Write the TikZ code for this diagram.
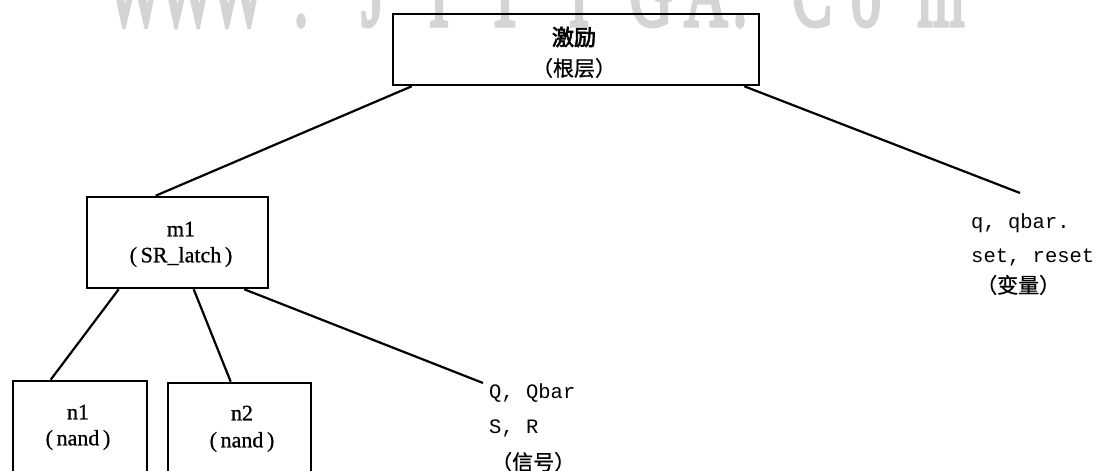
\documentclass[tikz,border=0pt]{standalone}
\usepackage{fontspec}
\setmainfont{Liberation Serif}
\setmonofont{Liberation Mono}
\newfontfamily\serifw[FakeBold=0.8]{Liberation Serif}
\newfontfamily\cjk[FakeBold=0.8]{Noto Sans CJK SC}
\newfontfamily\cjkb[FakeBold=3]{Noto Sans CJK SC}
\newfontfamily\wmfont[FakeBold=4]{Liberation Serif}
\tikzset{
  box/.style={draw, line width=2.6pt, inner sep=0pt},
  conn/.style={line width=2.2pt},
  lbl/.style={font=\serifw\fontsize{22}{26}\selectfont, inner sep=0pt},
  monol/.style={font=\ttfamily\fontsize{20.5}{24}\selectfont, anchor=west, inner sep=0pt},
  cjkl/.style={font=\cjk\fontsize{21}{24}\selectfont, inner sep=0pt},
  wm/.style={text=black!17, font=\wmfont\fontsize{100}{100}\selectfont, anchor=base, inner sep=0pt}
}
\begin{document}
\begin{tikzpicture}[x=1pt,y=-1pt]
\path[use as bounding box] (0,0) rectangle (1103,471);
\clip (0,0) rectangle (1103,471);
\fill[white] (0,0) rectangle (1103,471);
% watermark
\foreach \ch/\xx [count=\i] in {W/135,W/187,W/238,./301,J/373,I/439,T/505,I/579,G/651,A/706,./740,C/812,o/866,m/941}
  \node[wm] (wm\i) at (\xx,25.5) {\scalebox{0.6}[1]{\ch}};
% boxes
\node[box, minimum width=366pt, minimum height=71pt] (root) at (576,49.5) {};
\node[box, minimum width=181pt, minimum height=91pt] (m1) at (177.5,242.5) {};
\node[box, minimum width=134pt, minimum height=109pt] (n1) at (80,435.5) {};
\node[box, minimum width=143pt, minimum height=107pt] (n2) at (239.5,436.5) {};
% texts in boxes
\node[cjkl, font=\cjkb\fontsize{22}{24}\selectfont] (rootA) at (574,37) {激励};
\node[cjkl] (rootB) at (574,68) {（根层）};
\node[lbl] (m1A) at (181,229) {m1};
\node[lbl] (m1B) at (181,257) {(\,SR\_latch\,)};
\node[lbl] (n1A) at (78,412) {n1};
\node[lbl] (n1B) at (78,440) {(\,nand\,)};
\node[lbl] (n2A) at (242,413) {n2};
\node[lbl] (n2B) at (242,442) {(\,nand\,)};
% free labels
\node[monol] (sigA) at (489,393) {Q, Qbar};
\node[monol] (sigB) at (489,428) {S, R};
\node[cjkl, anchor=west] (sigC) at (491,462) {（信号）};
\node[monol] (varA) at (971,223) {q, qbar.};
\node[monol] (varB) at (971,257) {set, reset};
\node[cjkl, anchor=west] (varC) at (976,285) {（变量）};
\coordinate (sigend) at (483,383);
\coordinate (varend) at (1020,193);
% connectors
\draw[conn] ([xshift=20pt]root.south west) -- ([xshift=70pt]m1.north west);
\draw[conn] ([xshift=-16pt]root.south east) -- (varend);
\draw[conn] ([xshift=33pt]m1.south west) -- ([xshift=39pt]n1.north west);
\draw[conn] ([xshift=108pt]m1.south west) -- ([xshift=64pt]n2.north west);
\draw[conn] ([xshift=-25pt]m1.south east) -- (sigend);
\end{tikzpicture}
\end{document}
